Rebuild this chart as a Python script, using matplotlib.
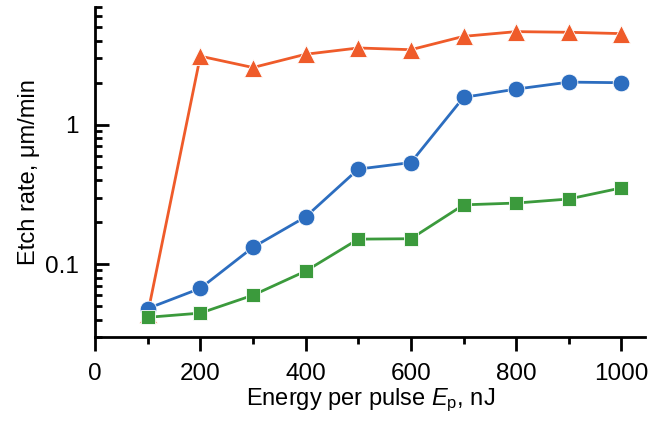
import matplotlib
matplotlib.use("Agg")
import matplotlib.pyplot as plt
from matplotlib.ticker import LogLocator, FixedLocator, NullFormatter, FuncFormatter

plt.rcParams['font.family'] = ['Liberation Sans', 'DejaVu Sans']
plt.rcParams['mathtext.fontset'] = 'custom'
plt.rcParams['mathtext.rm'] = 'Liberation Sans'
plt.rcParams['mathtext.it'] = 'Liberation Sans:italic'

energy = [100, 200, 300, 400, 500, 600, 700, 800, 900, 1000]
rate_triangle = [0.044, 3.1, 2.57, 3.2, 3.55, 3.45, 4.3, 4.65, 4.6, 4.5]
rate_circle = [0.048, 0.067, 0.132, 0.218, 0.48, 0.535, 1.57, 1.8, 2.02, 2.0]
rate_square = [0.0415, 0.0445, 0.0598, 0.089, 0.151, 0.152, 0.266, 0.274, 0.293, 0.352]

orange = '#EF5B2A'
blue = '#2C6DBF'
green = '#3B9A3C'

fig = plt.figure(figsize=(6.51, 4.29), dpi=100)
ax = fig.add_axes([0.146, 0.2145, 0.845, 0.7695])

lw = 2.0
ax.plot(energy, rate_triangle, color=orange, lw=lw, marker='^', ms=12.5,
        markeredgecolor='white', markeredgewidth=0.6, zorder=2)
ax.plot(energy, rate_circle, color=blue, lw=lw, marker='o', ms=12,
        markeredgecolor='white', markeredgewidth=0.6, zorder=3)
ax.plot(energy, rate_square, color=green, lw=lw, marker='s', ms=10.5,
        markeredgecolor='white', markeredgewidth=0.6, zorder=4)

ax.set_yscale('log')
ax.set_ylim(0.03, 7)
ax.set_xlim(0, 1045)

ax.xaxis.set_major_locator(FixedLocator([0, 200, 400, 600, 800, 1000]))
ax.xaxis.set_minor_locator(FixedLocator([100, 300, 500, 700, 900]))
ax.yaxis.set_major_locator(FixedLocator([0.1, 1]))
ax.yaxis.set_minor_locator(LogLocator(base=10, subs=range(2, 10)))
ax.yaxis.set_major_formatter(FuncFormatter(lambda v, p: {0.1: '0.1', 1: '1'}.get(round(v, 3), '')))
ax.yaxis.set_minor_formatter(NullFormatter())

for s in ['top', 'right']:
    ax.spines[s].set_visible(False)
for s in ['left', 'bottom']:
    ax.spines[s].set_linewidth(2.0)

ax.tick_params(axis='x', which='major', direction='out', length=10, width=2.0,
               labelsize=17.5, pad=9)
ax.tick_params(axis='x', which='minor', direction='out', length=5, width=2.0)
ax.tick_params(axis='y', which='major', direction='in', length=10, width=2.0,
               labelsize=17.5, pad=12)
ax.tick_params(axis='y', which='minor', direction='in', length=5, width=2.0)

ax.set_xlabel(r'Energy per pulse $E_\mathregular{p}$, nJ', fontsize=17, labelpad=1)
ax.set_ylabel('Etch rate, μm/min', fontsize=17, labelpad=3)

fig.savefig('out.png', dpi=100)
